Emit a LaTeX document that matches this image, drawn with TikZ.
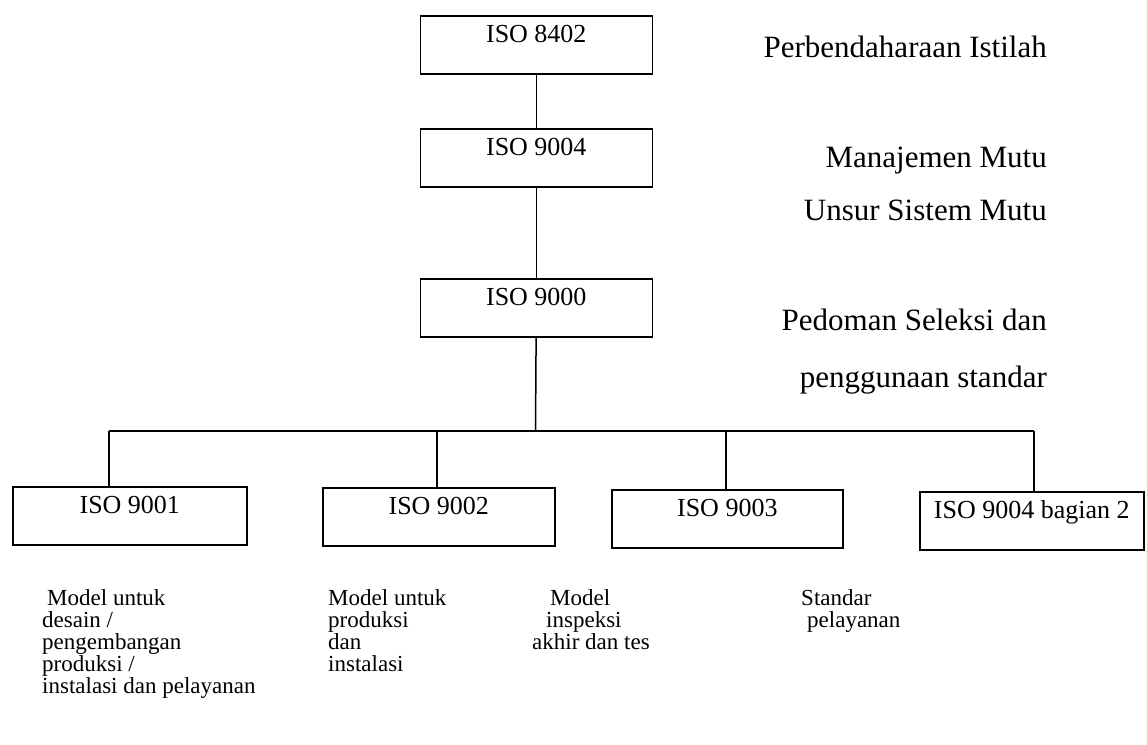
\documentclass[tikz,border=0pt]{standalone}
\usepackage{fontspec}
\setmainfont{Liberation Serif}
\newcommand{\isofont}{\fontsize{26}{26}\selectfont}
\newcommand{\sidefont}{\fontsize{31}{31}\selectfont}
\newcommand{\notefont}{\fontsize{23}{22}\selectfont}
\begin{document}
\begin{tikzpicture}[x=1pt,y=-1pt,
  isobox/.style={draw, line width=1.6pt, inner sep=0pt, anchor=north west,
    minimum height=58pt, text height=27pt, text depth=31pt, font=\isofont},
  conn/.style={line width=1.5pt},
  side/.style={anchor=base east, inner sep=0pt, font=\sidefont},
  note/.style={anchor=base west, inner sep=0pt, align=left, font=\notefont}]
\useasboundingbox (0,0) rectangle (1147,744);

% upper chain
\node[isobox, minimum width=232pt] (a8402) at (419.5,15) {ISO 8402};
\node[isobox, minimum width=232pt] (a9004) at (419.5,128) {ISO 9004};
\node[isobox, minimum width=232pt] (a9000) at (419.5,278) {ISO 9000};

% lower row
\node[isobox, minimum width=234pt] (b9001) at (12,486) {ISO 9001};
\node[isobox, minimum width=232pt] (b9002) at (322,487) {ISO 9002};
\node[isobox, minimum width=231pt] (b9003) at (611,489) {ISO 9003};
\node[isobox, minimum width=224pt] (b9004) at (919,491) {ISO 9004 bagian 2};

% branching bus
\coordinate (bus) at (535.5,431);
\coordinate (d1) at (109,431);
\coordinate (d2) at (437,431);
\coordinate (d3) at (726,431);
\coordinate (d4) at (1034,431);

\draw[conn] (a8402) -- (a9004);
\draw[conn] (a9004) -- (a9000);
\draw[conn] (a9000) -- (bus);
\draw[conn] (d1) -- (d4);
\draw[conn] (d1) -- (d1 |- b9001.north);
\draw[conn] (d2) -- (d2 |- b9002.north);
\draw[conn] (d3) -- (d3 |- b9003.north);
\draw[conn] (d4) -- (d4 |- b9004.north);

% descriptions on the right
\node[side] (t1) at (1047,57) {Perbendaharaan Istilah};
\node[side] (t2) at (1047,167) {Manajemen Mutu};
\node[side] (t3) at (1047,220) {Unsur Sistem Mutu};
\node[side] (t4) at (1047,330) {Pedoman Seleksi dan};
\node[side] (t5) at (1047,387) {penggunaan standar};

% descriptions below (anchored at the baseline of the last line)
\node[note] (n1) at (42,693) {\hspace{5pt}Model untuk\\desain /\\pengembangan\\produksi /\\instalasi dan pelayanan};
\node[note] (n2) at (328,671) {Model untuk\\produksi\\dan\\instalasi};
\node[note] (n3) at (532,649) {\hspace{18pt}Model\\\hspace{14pt}inspeksi\\akhir dan tes};
\node[note] (n4) at (801,627) {Standar\\\hspace{6pt}pelayanan};
\end{tikzpicture}
\end{document}
